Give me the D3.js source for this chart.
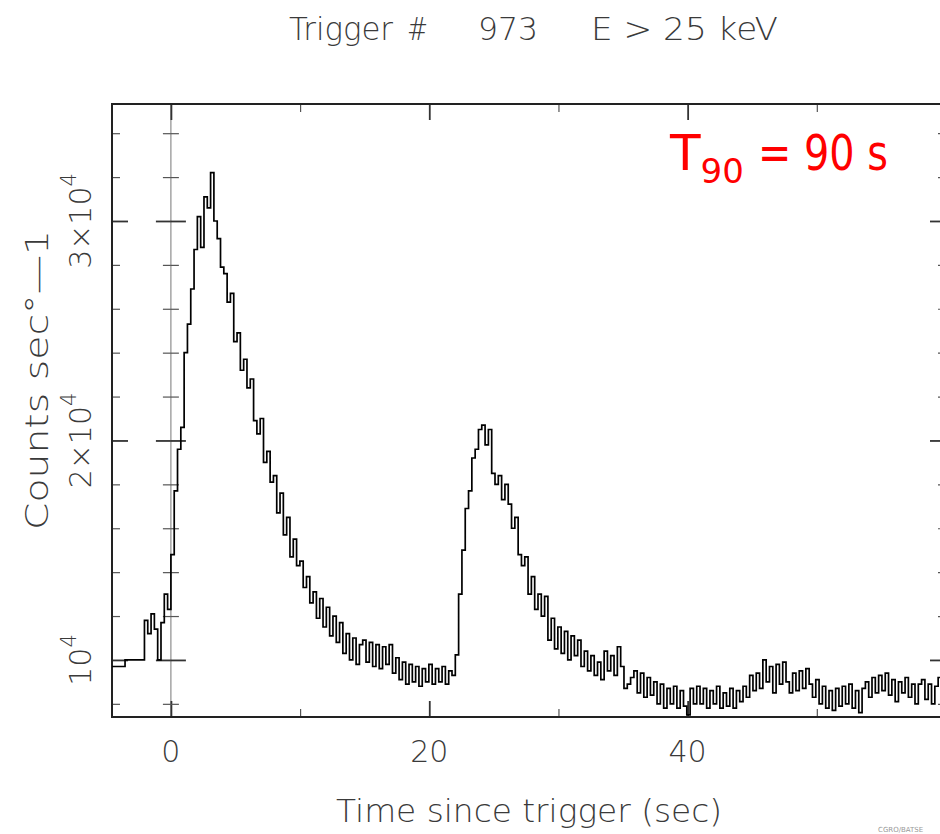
<!DOCTYPE html>
<html>
<head>
<meta charset="utf-8">
<script src="https://cdn.jsdelivr.net/npm/d3@7"></script>
<style>
  body { margin: 0; background: #fff; }
  text { font-family: "DejaVu Sans", sans-serif; }
</style>
</head>
<body>
<div id="chart"></div>
<script>
// BATSE trigger 973 light curve, E > 25 keV
// coarse bins before the fine data starts
const coarseStarts = [-5.12, -3.55];
const coarseCounts = [9700, 10000];

// fine bins, 0.256 s wide, starting at -2.048 s
const fineStart = -2.048;
const fineWidth = 0.256;
const fineCounts = [
  11800, 11200, 12100, 11400, 10000, 11700, 13000, 12300,
  14800, 17700, 19600, 20600, 24000, 25300, 26900, 28700,
  30200, 28800, 31100, 30600, 32200, 30000, 29200, 27900,
  27600, 26300, 26700, 24500, 24900, 23200, 23700, 22400,
  22800, 20900, 20300, 21000, 19000, 19500, 18100, 18400,
  16700, 17600, 15700, 16500, 14700, 15500, 14300, 14500,
  13300, 13800, 12600, 13100, 11900, 12800, 11500, 12400,
  11100, 12000, 10800, 11700, 10300, 11200, 10000, 11000,
  9800, 10700, 10900, 9900, 10800, 9700, 10700, 9600,
  10600, 9800, 10700, 9400, 10100, 9100, 9900, 8900,
  9800, 9000, 9700, 8800, 9600, 9000, 9800, 8900,
  9600, 9000, 9700, 8900, 9500, 9300, 10230, 13000,
  15000, 16900, 17700, 19200, 19600, 20500, 20700, 19800,
  20500, 18500, 18000, 18400, 17300, 18000, 17100, 16000,
  16500, 14800, 14300, 14700, 13000, 13800, 12300, 13000,
  12000, 12900, 10900, 11900, 10500, 11500, 10300, 11300,
  10000, 11100, 10200, 10900, 9700, 10400, 9500, 10200,
  9300, 9900, 9100, 10400, 9500, 10200, 9300, 10600,
  9700, 8700, 8900, 9200, 9500, 8500, 9400, 8300,
  9200, 8400, 9000, 8000, 8900, 7800, 8700, 8000,
  8800, 7800, 8600, 7900, 7500, 8700, 8000, 8800,
  8000, 8700, 7800, 8600, 8000, 8800, 7800, 8500,
  7900, 8700, 7800, 8600, 8100, 8800, 8300, 9300,
  8600, 9400, 8700, 10000, 9000, 9700, 8500, 9800,
  8900, 9900, 9000, 8500, 9400, 8600, 9500, 8700,
  9600, 8900, 8300, 9100, 8000, 8800, 7800, 8600,
  7700, 8700, 7900, 8800, 8000, 8900, 7800, 8600,
  7600, 8700, 9000, 8300, 9200, 8500, 9300, 8600,
  9400, 8400, 9100, 8100, 9000, 8500, 9200, 8300,
  8900, 8000, 8900, 9100, 8200, 8900, 8000, 8800,
  9200, 8300, 8900
];

const timeDomain = [-4.56, 60];
const countDomain = [7400, 35330];

const xMajorTicks = [0, 20, 40, 60];
const xMinorTicks = [10, 30, 50];
const xTickLabels = ["0", "20", "40"];
const yMajorTicks = [10000, 20000, 30000];
const yMinorTicks = [8000, 12000, 14000, 16000, 18000, 22000, 24000, 26000, 28000, 32000, 34000];
const yTickMantissa = ["", "2\u00d7", "3\u00d7"];

var canvas_width = 940, canvas_height = 834;
var frame = { left: 112, right: 946, top: 104, bottom: 717 };

var svg = d3.select("#chart")
  .append("svg")
  .attr("width", canvas_width)
  .attr("height", canvas_height)
  .attr("viewBox", [0, 0, canvas_width, canvas_height]);

svg.append("rect")
  .attr("width", canvas_width)
  .attr("height", canvas_height)
  .attr("fill", "#fff");

var x = d3.scaleLinear().domain(timeDomain).range([frame.left, frame.right]);
var y = d3.scaleLinear().domain(countDomain).range([frame.bottom, frame.top]);

function buildSeries() {
  var pts = [];
  coarseStarts.forEach((t, i) => pts.push({ t: t, v: coarseCounts[i] }));
  fineCounts.forEach((v, i) => pts.push({ t: fineStart + i * fineWidth, v: v }));
  // close the last bin
  pts.push({ t: fineStart + fineCounts.length * fineWidth, v: fineCounts[fineCounts.length - 1] });
  return pts;
}

function styleAxis(g, color, w) {
  g.select(".domain").remove();
  g.selectAll(".tick line").attr("stroke", color).attr("stroke-width", w);
  g.selectAll(".tick text").remove();
}

function addAxes(svg) {
  // zero line
  svg.append("line")
    .attr("x1", x(0)).attr("x2", x(0))
    .attr("y1", frame.top).attr("y2", frame.bottom)
    .attr("stroke", "#777")
    .attr("stroke-width", 1);

  // ticks pointing into the plot on all four sides
  const sides = [
    { axis: d3.axisRight, at: `translate(${frame.left},0)`, scale: y, major: yMajorTicks, minor: yMinorTicks },
    { axis: d3.axisLeft, at: `translate(${frame.right},0)`, scale: y, major: yMajorTicks, minor: yMinorTicks },
    { axis: d3.axisTop, at: `translate(0,${frame.bottom})`, scale: x, major: xMajorTicks, minor: xMinorTicks },
    { axis: d3.axisBottom, at: `translate(0,${frame.top})`, scale: x, major: xMajorTicks, minor: xMinorTicks }
  ];
  sides.forEach(s => {
    svg.append("g").attr("transform", s.at)
      .call(s.axis(s.scale).tickValues(s.major).tickSize(16))
      .call(g => styleAxis(g, "#333", 1.8));
    svg.append("g").attr("transform", s.at)
      .call(s.axis(s.scale).tickValues(s.minor).tickSize(8))
      .call(g => styleAxis(g, "#555", 1.2));
  });

  // crossing ticks on the zero line
  [d3.axisLeft, d3.axisRight].forEach(a => {
    svg.append("g").attr("transform", `translate(${x(0)},0)`)
      .call(a(y).tickValues(yMajorTicks).tickSize(15))
      .call(g => styleAxis(g, "#333", 1.8));
    svg.append("g").attr("transform", `translate(${x(0)},0)`)
      .call(a(y).tickValues(yMinorTicks).tickSize(8))
      .call(g => styleAxis(g, "#555", 1.2));
  });

  // frame
  svg.append("rect")
    .attr("x", frame.left).attr("y", frame.top)
    .attr("width", frame.right - frame.left)
    .attr("height", frame.bottom - frame.top)
    .attr("fill", "none")
    .attr("stroke", "#222")
    .attr("stroke-width", 2);
}

function addLabels(svg) {
  var txt = "#3a3a3a";

  svg.append("g").selectAll(".xlab")
    .data(xTickLabels)
    .join("text")
    .attr("x", (d, i) => x(xMajorTicks[i]))
    .attr("y", 762)
    .attr("text-anchor", "middle")
    .attr("font-size", 30)
    .attr("font-weight", 200)
    .attr("fill", txt)
    .text(d => d);

  var ylab = svg.append("g").selectAll(".ylab")
    .data(yMajorTicks)
    .join("text")
    .attr("transform", d => `translate(91,${y(d)}) rotate(-90)`)
    .attr("text-anchor", "middle")
    .attr("font-size", 30)
    .attr("font-weight", 200)
    .attr("fill", txt);
  ylab.append("tspan").text((d, i) => yTickMantissa[i] + "10");
  ylab.append("tspan").attr("font-size", 21).attr("dy", -15).text("4");

  // titles
  var title = [
    { s: "Trigger", x: 289, len: 104 },
    { s: "#", x: 407, len: 21 },
    { s: "973", x: 478, len: 60 },
    { s: "E > 25 keV", x: 591, len: 187 }
  ];
  svg.append("g").selectAll(".title")
    .data(title)
    .join("text")
    .attr("x", d => d.x)
    .attr("y", 40)
    .attr("font-size", 32)
    .attr("font-weight", 200)
    .attr("fill", txt)
    .attr("textLength", d => d.len)
    .attr("lengthAdjust", "spacingAndGlyphs")
    .text(d => d.s);

  svg.append("text")
    .attr("x", 336)
    .attr("y", 822)
    .attr("font-size", 32)
    .attr("font-weight", 200)
    .attr("fill", txt)
    .attr("textLength", 386)
    .attr("lengthAdjust", "spacingAndGlyphs")
    .text("Time since trigger (sec)");

  svg.append("text")
    .attr("transform", "translate(48,380) rotate(-90)")
    .attr("text-anchor", "middle")
    .attr("font-size", 32)
    .attr("font-weight", 200)
    .attr("fill", txt)
    .attr("textLength", 300)
    .attr("lengthAdjust", "spacingAndGlyphs")
    .text("Counts sec\u00b0\u20141");

  // T90 note
  var t90 = svg.append("text")
    .attr("x", 670)
    .attr("y", 170)
    .attr("font-family", "'Comic Sans MS', 'Comic Neue', 'DejaVu Sans', sans-serif")
    .attr("font-size", 50)
    .attr("fill", "#ff0000");
  t90.append("tspan").text("T");
  t90.append("tspan").attr("font-size", 34).attr("dy", 13).text("90");
  svg.append("text")
    .attr("x", 758)
    .attr("y", 170)
    .attr("font-family", "'Comic Sans MS', 'Comic Neue', 'DejaVu Sans', sans-serif")
    .attr("font-size", 50)
    .attr("fill", "#ff0000")
    .attr("textLength", 130)
    .attr("lengthAdjust", "spacingAndGlyphs")
    .text("= 90 s");

  // tiny credit line in the corner
  svg.append("text")
    .attr("x", 878)
    .attr("y", 832)
    .attr("font-size", 7)
    .attr("fill", "#999")
    .text("CGRO/BATSE");
}

function addCurve(svg, data) {
  svg.append("clipPath").attr("id", "plotclip")
    .append("rect")
    .attr("x", frame.left).attr("y", frame.top)
    .attr("width", frame.right - frame.left)
    .attr("height", frame.bottom - frame.top);

  var line = d3.line()
    .x(d => x(d.t))
    .y(d => y(d.v))
    .curve(d3.curveStepAfter);

  svg.append("path")
    .datum(data)
    .attr("clip-path", "url(#plotclip)")
    .attr("fill", "none")
    .attr("stroke", "#000")
    .attr("stroke-width", 1.7)
    .attr("d", line);
}

addAxes(svg);
addCurve(svg, buildSeries());
addLabels(svg);
</script>
</body>
</html>
